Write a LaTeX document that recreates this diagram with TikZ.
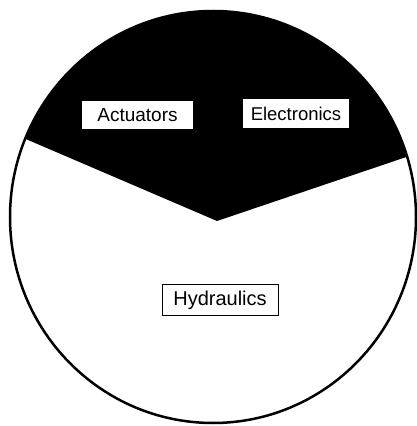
\documentclass[tikz,border=0pt]{standalone}
\usepackage{fontspec}
\setmainfont{Liberation Sans}
\begin{document}
\begin{tikzpicture}[x=1pt,y=1pt,
  lbl/.style={fill=white, inner sep=0pt, font=\fontsize{18.5}{21}\selectfont},
  rim/.style={line width=2.5pt, draw=black}]
\useasboundingbox (0,0) rectangle (416,426);
\fill[white] (0,0) rectangle (416,426);
\coordinate (c) at (213,209);
\coordinate (v) at (217,205);
\coordinate (pl) at (25.2,287.2);
\coordinate (pr) at (407.1,269.2);
\fill[black] (v) -- (pl) arc[start angle=157.7, end angle=17, x radius=203, y radius=206] -- cycle;
\draw[rim] (c) ellipse[x radius=203, y radius=206];
\node[lbl, minimum width=111pt, minimum height=28pt, font=\fontsize{19}{22}\selectfont] (act) at (137.5,311) {Actuators};
\node[lbl, minimum width=106pt, minimum height=29pt] (ele) at (296,312.5) {Electronics};
\node[lbl, draw=black, line width=1pt, minimum width=116pt, minimum height=31pt, font=\fontsize{20}{23}\selectfont] (hyd) at (220,126) {Hydraulics};
\end{tikzpicture}
\end{document}
